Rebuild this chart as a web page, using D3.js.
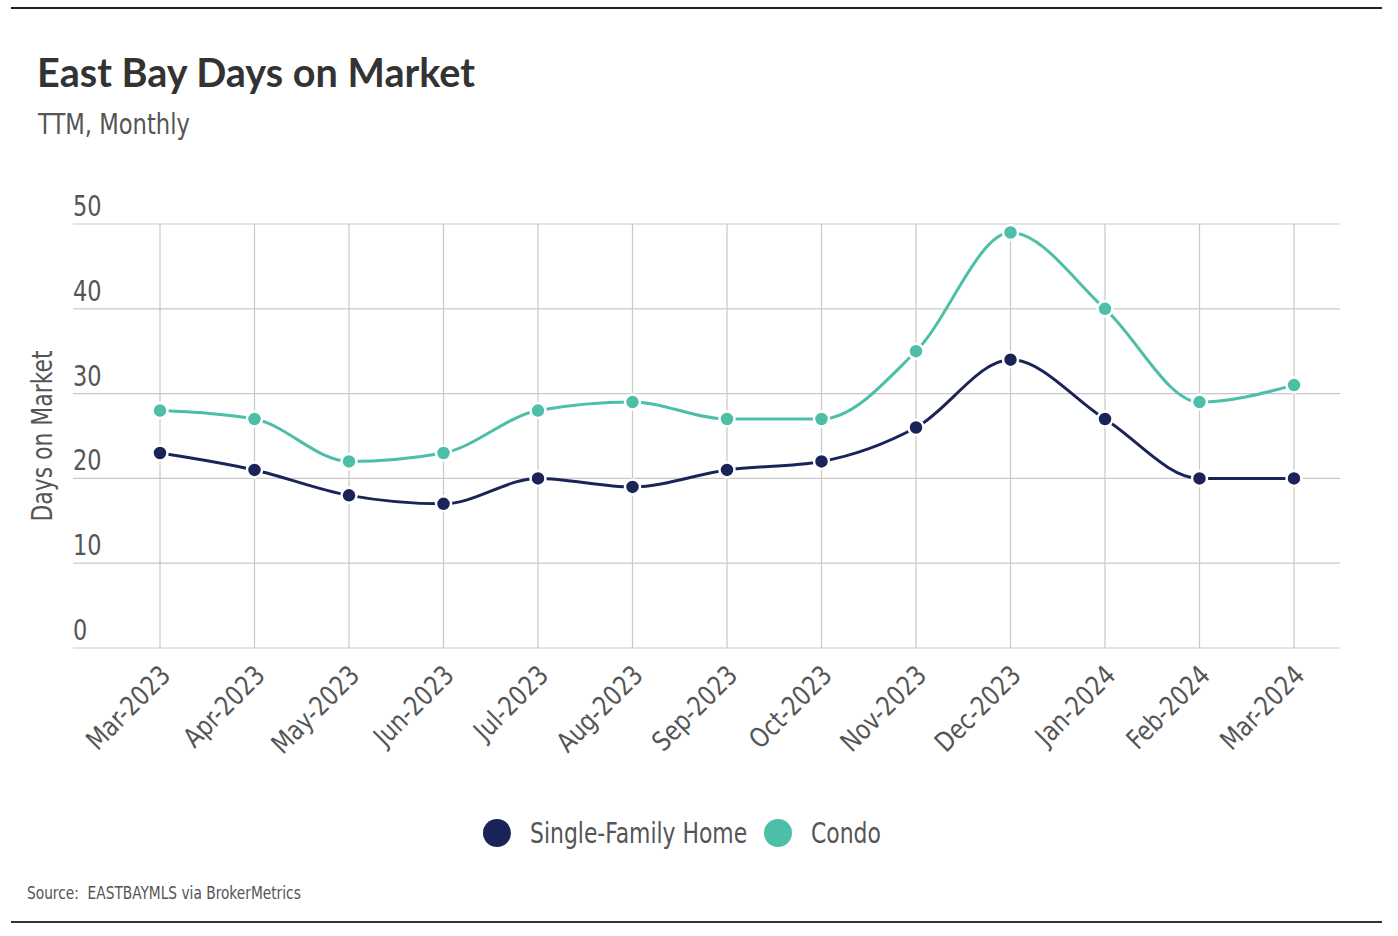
<!DOCTYPE html>
<html>
<head>
<meta charset="utf-8">
<script src="https://cdn.jsdelivr.net/npm/d3@7"></script>
<style>
  body { margin: 0; background: #fff; }
  svg { display: block; }
</style>
</head>
<body>
<script>
// data
var months = ["Mar-2023", "Apr-2023", "May-2023", "Jun-2023", "Jul-2023", "Aug-2023", "Sep-2023",
              "Oct-2023", "Nov-2023", "Dec-2023", "Jan-2024", "Feb-2024", "Mar-2024"];
var singleFamily = [23, 21, 18, 17, 20, 19, 21, 22, 26, 34, 27, 20, 20];
var condo = [28, 27, 22, 23, 28, 29, 27, 27, 35, 49, 40, 29, 31];
var yTicks = [0, 10, 20, 30, 40, 50];
var seriesNames = ["Single-Family Home", "Condo"];
var seriesColors = ["#1b2459", "#4dbfa8"];

var width = 1398;
var height = 936;

// no narrow font installed, so squeeze a normal one sideways
var font = "'DejaVu Sans Condensed', 'Noto Sans', sans-serif";

var svg = d3.select("body")
            .append("svg")
            .attr("width", width)
            .attr("height", height);

// helper: text squeezed horizontally by sx
var squeezed = function(parent, x, y, sx, size, str, rot){
  var t = "translate(" + x + "," + y + ")";
  if (rot) { t += " rotate(" + rot + ")"; }
  t += " scale(" + sx + ",1)";
  return parent.append("text")
               .attr("transform", t)
               .attr("font-family", font)
               .attr("font-size", size)
               .attr("fill", "#555")
               .text(str);
};

// frame lines top and bottom
svg.append("line")
   .attr("x1", 11).attr("x2", 1382)
   .attr("y1", 8).attr("y2", 8)
   .attr("stroke", "#222").attr("stroke-width", 2);

svg.append("line")
   .attr("x1", 11).attr("x2", 1382)
   .attr("y1", 922).attr("y2", 922)
   .attr("stroke", "#333").attr("stroke-width", 2);

// title
svg.append("text")
   .attr("x", 37).attr("y", 87)
   .attr("font-family", "Lato, 'Open Sans', sans-serif")
   .attr("font-weight", "bold")
   .attr("font-size", 39.6)
   .attr("fill", "#333")
   .text("East Bay Days on Market");

squeezed(svg, 38, 134, 0.9, 28, "TTM, Monthly");

var xScale = d3.scalePoint()
               .domain(months)
               .range([160, 1294]);

var yScale = d3.scaleLinear()
               .domain([0, 50])
               .range([648, 224]);

var plotLeft = 73;
var plotRight = 1340;

// horizontal grid
svg.append("g")
   .selectAll("line")
   .data(yTicks)
   .enter()
   .append("line")
   .attr("x1", plotLeft).attr("x2", plotRight)
   .attr("y1", function(d){ return yScale(d); })
   .attr("y2", function(d){ return yScale(d); })
   .attr("stroke", "#c8c8c8")
   .attr("stroke-width", 1.2);

// vertical grid
svg.append("g")
   .selectAll("line")
   .data(months)
   .enter()
   .append("line")
   .attr("x1", function(d){ return xScale(d); })
   .attr("x2", function(d){ return xScale(d); })
   .attr("y1", yScale(50))
   .attr("y2", yScale(0))
   .attr("stroke", "#c8c8c8")
   .attr("stroke-width", 1.2);

// y tick labels sit above their gridline
var yLabels = svg.append("g");
yTicks.forEach(function(d){
  squeezed(yLabels, plotLeft, yScale(d) - 8, 0.86, 29, d);
});

squeezed(svg, 52, 436, 0.87, 28, "Days on Market", -90)
   .attr("text-anchor", "middle");

// x labels, rotated
var xLabels = svg.append("g");
months.forEach(function(d){
  squeezed(xLabels, xScale(d) + 12, 677, 0.92, 27, d, -45)
     .attr("text-anchor", "end");
});

var line = d3.line()
             .x(function(d, i){ return xScale(months[i]); })
             .y(function(d){ return yScale(d); })
             .curve(d3.curveMonotoneX);

var allSeries = [singleFamily, condo];

allSeries.forEach(function(values, k){
  svg.append("path")
     .attr("d", line(values))
     .attr("fill", "none")
     .attr("stroke", seriesColors[k])
     .attr("stroke-width", 3);
});

allSeries.forEach(function(values, k){
  svg.append("g")
     .selectAll("circle")
     .data(values)
     .enter()
     .append("circle")
     .attr("cx", function(d, i){ return xScale(months[i]); })
     .attr("cy", function(d){ return yScale(d); })
     .attr("r", 7.5)
     .attr("fill", seriesColors[k])
     .attr("stroke", "#fff")
     .attr("stroke-width", 2.5);
});

// legend
var legendX = [497, 778];
seriesNames.forEach(function(name, k){
  svg.append("circle")
     .attr("cx", legendX[k]).attr("cy", 833)
     .attr("r", 14)
     .attr("fill", seriesColors[k]);
  squeezed(svg, legendX[k] + 33, 843, 0.84, 29, name);
});

squeezed(svg, 27, 899, 0.85, 18, "Source:  EASTBAYMLS via BrokerMetrics")
   .attr("xml:space", "preserve")
   .style("white-space", "pre");
</script>
</body>
</html>
